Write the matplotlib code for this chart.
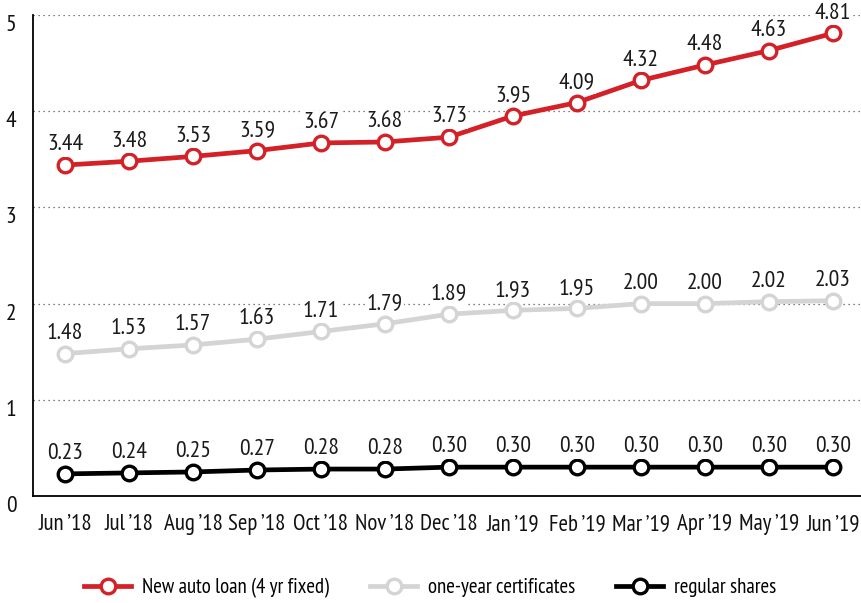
import matplotlib
matplotlib.use("Agg")
import matplotlib.pyplot as plt

months = ["Jun ’18", "Jul ’18", "Aug ’18", "Sep ’18", "Oct ’18", "Nov ’18", "Dec ’18",
          "Jan ’19", "Feb ’19", "Mar ’19", "Apr ’19", "May ’19", "Jun ’19"]
auto_loan = [3.44, 3.48, 3.53, 3.59, 3.67, 3.68, 3.73, 3.95, 4.09, 4.32, 4.48, 4.63, 4.81]
certificates = [1.48, 1.53, 1.57, 1.63, 1.71, 1.79, 1.89, 1.93, 1.95, 2.00, 2.00, 2.02, 2.03]
shares = [0.23, 0.24, 0.25, 0.27, 0.28, 0.28, 0.30, 0.30, 0.30, 0.30, 0.30, 0.30, 0.30]
series_names = ["New auto loan (4 yr fixed)", "one-year certificates", "regular shares"]
colors = ["#d42027", "#d4d4d4", "#000000"]

plt.rcParams['font.family'] = ["PT Sans Narrow", "DejaVu Sans"]

fig = plt.figure(figsize=(8.61, 6.03), dpi=100)
ax = fig.add_axes([33/861, 1-496/603, 1-33/861, (496-15)/603])

x = list(range(len(months)))
for vals, name, c in zip([auto_loan, certificates, shares], series_names, colors):
    ax.plot(x, vals, color=c, lw=3.4, marker='o', ms=10.5, mfc='white', mec=c, mew=2.4,
            label=name, zorder=3, clip_on=False)
    for xi, v in zip(x, vals):
        ax.annotate(f"{v:.2f}", (xi, v), xytext=(0, 7), textcoords='offset points',
                    ha='center', va='bottom', fontsize=17, color='#1a1a1a', zorder=4,
                    bbox=dict(boxstyle='square,pad=0.05', fc='white', ec='none'))

ax.set_xlim(-0.5, 12.44)
ax.set_ylim(0, 5)
ax.set_yticks([0, 1, 2, 3, 4, 5])
ax.set_xticks(x)
ax.set_xticklabels(months, fontsize=16.5, color='#111111')
ax.tick_params(axis='y', labelsize=17, length=0, pad=12, labelcolor='#111111')
ax.tick_params(axis='x', length=0, pad=13)
for lbl in ax.get_yticklabels():
    lbl.set_verticalalignment('top')
ax.grid(axis='y', linestyle=(0, (1, 3)), color='#555555', lw=0.9)
ax.set_axisbelow(True)
for s in ['top', 'right']:
    ax.spines[s].set_visible(False)
ax.spines['left'].set_linewidth(1.3)
ax.spines['bottom'].set_linewidth(1.3)

leg = fig.legend(loc='center', bbox_to_anchor=(0.5, 1-588/603), ncol=3, frameon=False,
                 fontsize=15, handlelength=2.25, columnspacing=1.97, handletextpad=0.53)
fig.savefig("out.png", dpi=100)
